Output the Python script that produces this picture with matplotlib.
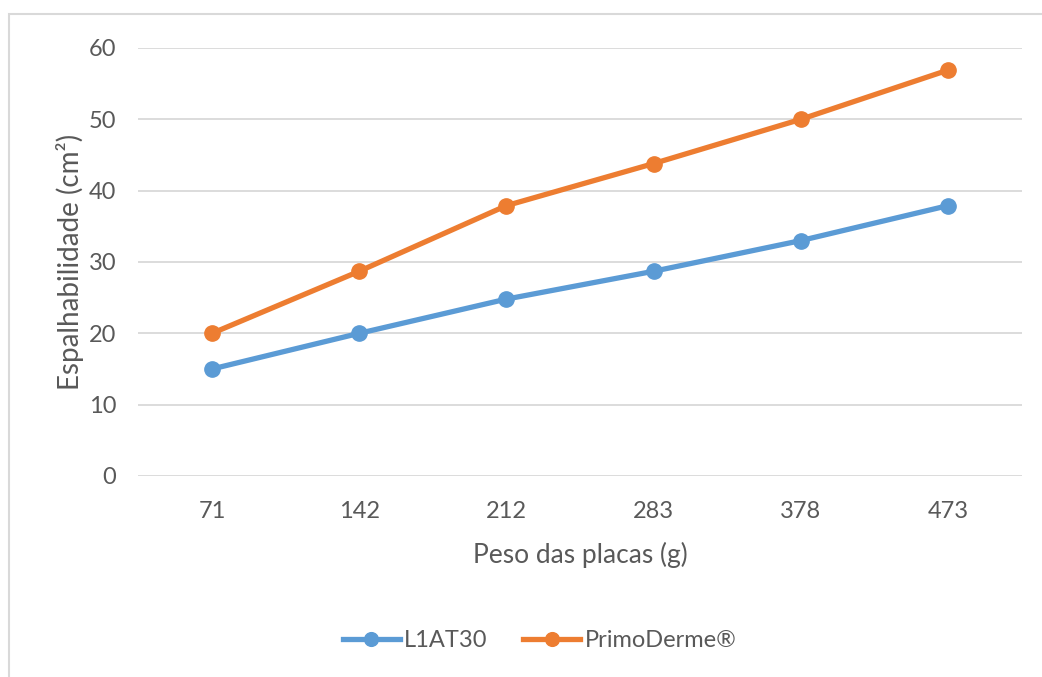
import matplotlib.pyplot as plt
from matplotlib.patches import Rectangle
import numpy as np

plt.rcParams['font.family'] = ['Lato', 'DejaVu Sans']

pesos = ['71', '142', '212', '283', '378', '473']
l1at30 = [15, 20, 24.8, 28.7, 33, 37.9]
primoderme = [20, 28.7, 37.9, 43.8, 50, 56.9]

azul = '#5B9BD5'
laranja = '#ED7D31'
cinza_txt = '#595959'
cinza_grid = '#D9D9D9'

fig = plt.figure(figsize=(10.42, 6.77), dpi=100)
ax = fig.add_axes([0.1328, 0.2969, 0.8476, 0.6322])

x = np.arange(len(pesos))
ax.plot(x, l1at30, color=azul, lw=3.8, marker='o', ms=11, label='L1AT30')
ax.plot(x, primoderme, color=laranja, lw=3.8, marker='o', ms=11, label='PrimoDerme®')

ax.set_xlim(-0.5, len(pesos) - 0.5)
ax.set_ylim(0, 60)
ax.set_yticks(range(0, 61, 10))
ax.set_xticks(x)
ax.set_xticklabels(pesos)
ax.grid(axis='y', color=cinza_grid, lw=1.3)
ax.set_axisbelow(True)
for s in ax.spines.values():
    s.set_visible(False)
ax.tick_params(length=0, colors=cinza_txt, labelsize=17)
ax.tick_params(axis='y', pad=16)
ax.tick_params(axis='x', pad=18)

ax.set_xlabel('Peso das placas (g)', color=cinza_txt, fontsize=19, labelpad=14)
ax.set_ylabel('Espalhabilidade (cm²)', color=cinza_txt, fontsize=20, labelpad=14)
ax.yaxis.set_label_coords(-54 / 883, 0.5)

leg = fig.legend(loc='center', bbox_to_anchor=(0.518, 0.054), ncol=2, frameon=False,
                 fontsize=17, handlelength=2.4, columnspacing=1.5, handletextpad=0.2,
                 markerscale=0.9)
for t in leg.get_texts():
    t.set_color(cinza_txt)

# moldura da area do grafico
fig.patches.append(Rectangle((9 / 1042, -0.05), 1.1, 1 - 14 / 677 + 0.05,
                             transform=fig.transFigure, fill=False,
                             edgecolor=cinza_grid, lw=1.5))

fig.savefig('out.png', dpi=100, facecolor='white')
